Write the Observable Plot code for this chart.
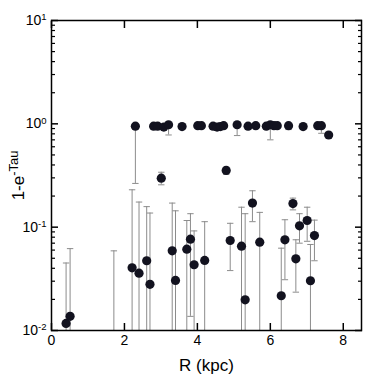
<!DOCTYPE html>
<html><head><meta charset="utf-8">
<script src="https://cdn.jsdelivr.net/npm/d3@7"></script>
<script src="https://cdn.jsdelivr.net/npm/@observablehq/plot@0.6"></script>
<style>body{margin:0;background:#fff;}</style>
</head><body><div id="chart"></div>
<script>
// Galactocentric radius (kpc)
const R = [
  2.30, 2.80, 2.91, 3.08, 3.21, 3.58, 4.01, 4.11, 4.43, 4.54, 4.63, 4.72,
  5.09, 5.39, 5.60, 5.89, 6.00, 6.10, 6.19, 6.50, 6.90, 7.30, 7.40, 7.60,
  3.01, 4.79,
  0.40, 0.51, 1.71, 2.21, 2.40, 2.61, 2.70, 3.31, 3.40, 3.71, 3.81, 3.91,
  4.20, 4.90, 5.21, 5.31, 5.51, 5.71, 6.30, 6.40, 6.62, 6.70, 6.80, 7.01,
  7.21, 7.10
];
// 1 - e^-Tau
const tau = [
  0.95, 0.95, 0.95, 0.93, 0.98, 0.94, 0.96, 0.96, 0.95, 0.93, 0.94, 0.96,
  0.98, 0.95, 0.96, 0.95, 0.98, 0.96, 0.96, 0.96, 0.94, 0.96, 0.96, 0.78,
  0.298, 0.354,
  0.0117, 0.0137, 0.006, 0.0404, 0.0359, 0.0473, 0.028, 0.059, 0.0305, 0.0612, 0.0766, 0.0433,
  0.0477, 0.0743, 0.0655, 0.0198, 0.171, 0.0716, 0.0217, 0.0755, 0.169, 0.0494, 0.103, 0.116,
  0.083, 0.0303
];
// lower error bound (null = none; values below 0.01 run off the axis)
const tauLo = [
  0.265, null, null, null, 0.78, null, null, null, null, null, null, null,
  0.77, 0.88, null, null, 0.70, null, null, 0.88, null, null, 0.81, null,
  0.257, 0.324,
  0.001, 0.001, 0.001, 0.001, 0.001, 0.001, 0.001, 0.001, 0.001, 0.001, 0.0137, 0.001,
  0.001, 0.038, 0.001, 0.001, 0.113, 0.001, 0.001, 0.031, 0.147, 0.0235, 0.070, 0.073,
  0.0473, 0.001
];
// upper error bound (null = none)
const tauHi = [
  null, null, null, null, null, null, null, null, null, null, null, null,
  null, null, null, null, null, null, null, null, null, null, null, null,
  0.34, 0.381,
  0.045, 0.062, 0.059, 0.23, 0.175, 0.158, 0.137, 0.171, 0.144, 0.116, 0.135, 0.092,
  0.113, 0.109, 0.156, 0.135, 0.225, 0.139, 0.0626, 0.118, 0.191, 0.0755, 0.135, 0.156,
  0.117, 0.068
];
const xTicks = [0, 2, 4, 6, 8];
const yMajor = [0.01, 0.1, 1, 10];
const yMinorMantissa = [2, 3, 4, 5, 6, 7, 8, 9];
const yMinor = [0.01, 0.1, 1].flatMap(d => yMinorMantissa.map(m => m * d));

const data = R.map((r, i) => ({R: r, tau: tau[i], lo: tauLo[i], hi: tauHi[i]}));
const bars = data.filter(d => d.lo != null || d.hi != null)
  .map(d => ({R: d.R, y1: d.lo ?? d.tau, y2: d.hi ?? d.tau}));
const capsHi = data.filter(d => d.hi != null);
const capsLo = data.filter(d => d.lo != null);

const cap = {draw(ctx, size) { const w = Math.sqrt(size / Math.PI); ctx.moveTo(-w, 0); ctx.lineTo(w, 0); }};
const barColor = "#8c8c8c";

const plot = Plot.plot({
  width: 382, height: 376,
  marginLeft: 51, marginRight: 21, marginTop: 20, marginBottom: 46,
  style: {fontFamily: "'Liberation Sans', Arial, sans-serif", fontSize: "14px", background: "white", color: "black"},
  x: {domain: [0, 8.5]},
  y: {type: "log", domain: [0.01, 10]},
  marks: [
    Plot.ruleX(bars, {x: "R", y1: "y1", y2: "y2", stroke: barColor, strokeWidth: 1, clip: true}),
    Plot.dot(capsHi, {x: "R", y: "hi", symbol: cap, r: 3.2, fill: "none", stroke: barColor, strokeWidth: 1, clip: true}),
    Plot.dot(capsLo, {x: "R", y: "lo", symbol: cap, r: 3.2, fill: "none", stroke: barColor, strokeWidth: 1, clip: true}),
    Plot.dot(data, {x: "R", y: "tau", r: 4.6, fill: "#12121f", stroke: "none", clip: true}),
    Plot.frame({stroke: "black", strokeWidth: 1.5}),
    Plot.axisY(yMajor, {anchor: "left", tickSize: -7, tickPadding: 12, strokeWidth: 1.5,
      tickFormat: d => "10^" + Math.round(Math.log10(d)),
      label: "1-e", labelAnchor: "center", labelOffset: 40, labelArrow: "none"}),
    Plot.axisY(yMinor, {anchor: "left", tickSize: -4, strokeWidth: 1.2, tickFormat: () => "", label: null}),
    Plot.axisY(yMajor, {anchor: "right", tickSize: -7, strokeWidth: 1.5, tickFormat: () => "", label: null}),
    Plot.axisY(yMinor, {anchor: "right", tickSize: -4, strokeWidth: 1.2, tickFormat: () => "", label: null}),
    Plot.axisX(xTicks, {anchor: "bottom", tickSize: -7, tickPadding: 12, strokeWidth: 1.5,
      label: "R (kpc)", labelAnchor: "center", labelOffset: 40, labelArrow: "none"}),
    Plot.axisX(xTicks, {anchor: "top", tickSize: -7, strokeWidth: 1.5, tickFormat: () => "", label: null})
  ]
});
document.getElementById("chart").appendChild(plot);

const svg = d3.select(plot);
svg.selectAll('g[aria-label="y-axis tick label"] text').each(function() {
  const t = d3.select(this);
  const m = t.text().match(/^10\^(.+)$/);
  if (m) {
    t.text("10");
    t.append("tspan").attr("dy", "-0.5em").attr("font-size", "0.68em").text(m[1]);
  }
});
svg.selectAll('g[aria-label="y-axis label"] text').each(function() {
  const t = d3.select(this);
  t.attr("font-size", 17).text("1-e");
  t.append("tspan").attr("dy", "-0.45em").attr("font-size", "0.76em").text("-Tau");
});
svg.selectAll('g[aria-label="x-axis label"] text').attr("font-size", 17);
</script>
</body></html>
